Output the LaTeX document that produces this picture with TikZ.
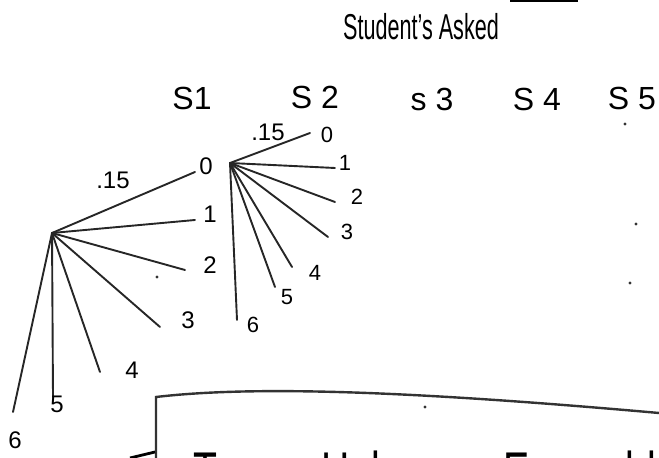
\documentclass[tikz,border=0pt]{standalone}
\usepackage{fontspec}
\setmainfont{Liberation Sans}
\usepackage{tikz}
\usetikzlibrary{positioning}

\begin{document}
\begin{tikzpicture}[
  x=0.5pt, y=-0.5pt,
  branch/.style={line width=0.95pt, black!85, line cap=round},
  frame/.style={line width=1.2pt, black!80, line cap=round},
  colhead/.style={font=\fontsize{16}{18}\selectfont, inner sep=0pt},
  leafbig/.style={font=\fontsize{12}{14}\selectfont, inner sep=0pt},
  leafsmall/.style={font=\fontsize{11}{13}\selectfont, inner sep=0pt},
  prob/.style={font=\fontsize{12}{14}\selectfont, inner sep=0pt},
  bigword/.style={font=\fontsize{28}{30}\selectfont, inner sep=0pt, anchor=base west},
  speck/.style={circle, fill=black!80, inner sep=0pt, minimum size=1.6pt}
]
\useasboundingbox (0,0) rectangle (659,458);
\clip (0,0) rectangle (659,458);

% --- Title and column heads ---
\draw[line width=1pt] (510,1) coordinate (barl) -- (578,1) coordinate (barr);
\node[font=\fontsize{18}{20}\selectfont, inner sep=0pt] (title) at (421,27) {\scalebox{0.6}[1]{Student's Asked}};
\node[colhead] (s1) at (192,98) {S1};
\node[colhead] (s2) at (315,97) {S 2};
\node[colhead] (s3) at (432,99) {s 3};
\node[colhead] (s4) at (537,99) {S 4};
\node[colhead] (s5) at (632,98) {S 5};

% --- Tree under S1 ---
\coordinate (r1) at (52,233);
\coordinate (a0) at (195,172);
\coordinate (a1) at (195,220);
\coordinate (a2) at (185,270);
\coordinate (a3) at (160,327);
\coordinate (a4) at (100,372);
\coordinate (a5) at (53,397);
\coordinate (a6) at (13,412);
\foreach \k in {0,...,6} \draw[branch] (r1) -- (a\k);
\node[leafbig] (n0) at (206,166) {0};
\node[leafbig] (n1) at (210,214) {1};
\node[leafbig] (n2) at (210,265) {2};
\node[leafbig] (n3) at (188,320) {3};
\node[leafbig] (n4) at (132,370) {4};
\node[leafbig] (n5) at (57,404) {5};
\node[leafbig] (n6) at (15,440) {6};
\node[prob] (p1) at (113,180) {.15};

% --- Tree under S2 ---
\coordinate (r2) at (230,163);
\coordinate (b0) at (310,133);
\coordinate (b1) at (335,168);
\coordinate (b2) at (335,202);
\coordinate (b3) at (328,237);
\coordinate (b4) at (292,267);
\coordinate (b5) at (275,287);
\coordinate (b6) at (237,320);
\foreach \k in {0,...,6} \draw[branch] (r2) -- (b\k);
\node[leafsmall] (m0) at (327,135) {0};
\node[leafsmall] (m1) at (345,163) {1};
\node[leafsmall] (m2) at (357,197) {2};
\node[leafsmall] (m3) at (347,232) {3};
\node[leafsmall] (m4) at (315,273) {4};
\node[leafsmall] (m5) at (287,297) {5};
\node[leafsmall] (m6) at (253,325) {6};
\node[prob] (p2) at (268,132) {.15};

% --- Stray marks ---
\node[speck] (d1) at (157,277) {};
\node[speck] (d2) at (625,124) {};
\node[speck] (d3) at (636,224) {};
\node[speck] (d4) at (630,283) {};
\node[speck] (d5) at (425,407) {};

% --- Box at the bottom ---
\coordinate (fb) at (156,458);
\coordinate (fc) at (156,397);
\coordinate (fe) at (659,413);
\draw[frame] (fb) -- (fc) .. controls (250,386) and (400,390) .. (fe);
\coordinate (hk1) at (130,458);
\coordinate (hk2) at (155,452);
\draw[line width=1.4pt] (hk1) -- (hk2);

\node[bigword] (w1) at (193,492) {\scalebox{0.7}[1]{Two}};
\node[bigword] (w2) at (321,492) {\scalebox{0.7}[1]{Halves}};
\node[bigword] (w3) at (503,492) {\scalebox{0.7}[1]{Ensemble}};

\end{tikzpicture}
\end{document}
